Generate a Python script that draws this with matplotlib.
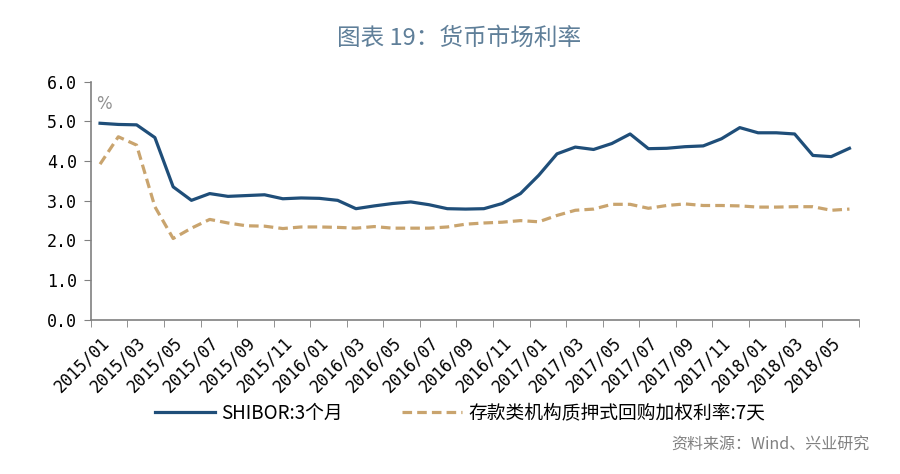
import numpy as np
import matplotlib.pyplot as plt

plt.rcParams['font.family'] = ['Noto Sans CJK SC', 'DejaVu Sans']

# monthly data, 2015/01 - 2018/06
months = [f"{y}/{m:02d}" for y in range(2015, 2019) for m in range(1, 13)][:42]

shibor_3m = [4.95, 4.92, 4.91, 4.59, 3.35, 3.01, 3.18, 3.11, 3.13, 3.15,
             3.05, 3.07, 3.06, 3.01, 2.80, 2.87, 2.93, 2.97, 2.90, 2.80,
             2.79, 2.80, 2.93, 3.18, 3.64, 4.18, 4.35, 4.29, 4.44, 4.68,
             4.31, 4.32, 4.36, 4.38, 4.56, 4.84, 4.71, 4.71, 4.68, 4.14,
             4.11, 4.32]
repo_7d = [3.92, 4.61, 4.40, 2.85, 2.05, 2.31, 2.53, 2.44, 2.37, 2.36,
           2.30, 2.34, 2.34, 2.33, 2.31, 2.35, 2.31, 2.31, 2.31, 2.34,
           2.41, 2.44, 2.46, 2.50, 2.47, 2.63, 2.76, 2.79, 2.91, 2.91,
           2.81, 2.88, 2.92, 2.88, 2.88, 2.87, 2.84, 2.84, 2.85, 2.85,
           2.76, 2.79]

label_a = "SHIBOR:3个月"
label_b = "存款类机构质押式回购加权利率:7天"

x = np.arange(len(months))

fig = plt.figure(figsize=(9, 4.74), dpi=100)
ax = fig.add_axes([0.101, 0.325, 0.853, 0.503])

ax.plot(x, shibor_3m, color="#1f4e79", lw=2.3, label=label_a)
ax.plot(x, repo_7d, color="#c9a46e", lw=2.3, ls=(0, (3, 1.6)), label=label_b)

ax.set_xlim(-0.5, len(months) - 0.5)
ax.set_ylim(0, 6)
yt = np.arange(0, 6.1, 1)
ax.set_yticks(yt)
ax.set_yticklabels([f"{v:.1f}" for v in yt], fontsize=12, family="DejaVu Sans Mono")

ax.set_xticks(x[::2])
ax.set_xticklabels(months[::2], rotation=45, ha="right", va="top",
                   rotation_mode="anchor", fontsize=12, family="DejaVu Sans Mono")
ax.tick_params(axis="x", which="major", length=0, pad=10)
ax.set_xticks(np.arange(-0.5, len(months), 2), minor=True)
ax.tick_params(axis="x", which="minor", length=5, color="#808080", direction="out")
ax.tick_params(axis="y", length=5, color="#808080", direction="out", pad=5)

for s in ["top", "right"]:
    ax.spines[s].set_visible(False)
for s in ["left", "bottom"]:
    ax.spines[s].set_color("#808080")
    ax.spines[s].set_linewidth(1.2)

ax.text(-0.2, 5.3, "%", color="#909090", fontsize=12, family="DejaVu Sans")

fig.text(0.51, 0.92, "图表 19：货币市场利率", ha="center", va="center",
         fontsize=17, color="#5f7f99")

fig.legend(loc="center", bbox_to_anchor=(0.511, 0.128), ncol=2, frameon=False,
           fontsize=13.5, handlelength=3.2, columnspacing=3.2, handletextpad=0.3)

fig.text(0.966, 0.061, "资料来源：Wind、兴业研究", ha="right", va="center",
         fontsize=11.5, color="#808080")

fig.savefig("out.png", dpi=100, facecolor="white")
